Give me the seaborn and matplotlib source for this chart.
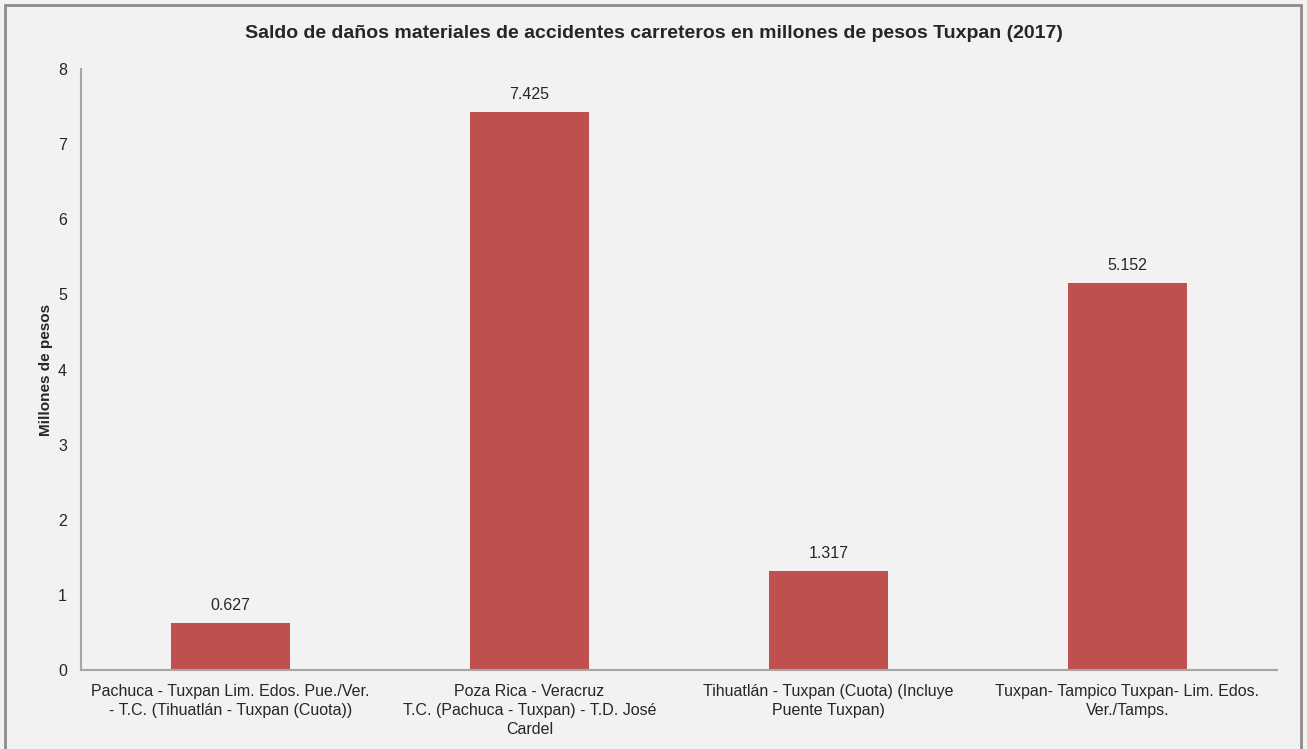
import matplotlib
matplotlib.use("Agg")
import matplotlib.pyplot as plt
import seaborn as sns
import pandas as pd
from matplotlib.patches import Rectangle

# Data
tramos = [
    "Pachuca - Tuxpan Lim. Edos. Pue./Ver.\n- T.C. (Tihuatlán - Tuxpan (Cuota))",
    "Poza Rica - Veracruz\nT.C. (Pachuca - Tuxpan) - T.D. José\nCardel",
    "Tihuatlán - Tuxpan (Cuota) (Incluye\nPuente Tuxpan)",
    "Tuxpan- Tampico Tuxpan- Lim. Edos.\nVer./Tamps.",
]
danos = [0.627, 7.425, 1.317, 5.152]
etiquetas = ["0.627", "7.425", "1.317", "5.152"]

df = pd.DataFrame({"tramo": tramos, "danos": danos})

sns.set_style("white")
plt.rcParams["font.family"] = ["Liberation Sans", "DejaVu Sans"]

bg = "#F2F2F2"
fig = plt.figure(figsize=(13.07, 7.49), dpi=100, facecolor=bg)
ax = fig.add_axes([81 / 1307, 1 - 670 / 749, 1196 / 1307, 601 / 749])
ax.set_facecolor(bg)

sns.barplot(data=df, x="tramo", y="danos", color="#C0504D", width=0.4,
            saturation=1, linewidth=0, edgecolor="none", ax=ax)

for i, (v, t) in enumerate(zip(danos, etiquetas)):
    ax.text(i, v + 0.13, t, ha="center", va="bottom", fontsize=11.5, color="#262626")

ax.set_xlim(-0.5, 3.5)
ax.set_ylim(0, 8)
ax.set_yticks(range(0, 9))
ax.tick_params(axis="both", length=0, labelsize=11.5, colors="#262626")
ax.tick_params(axis="y", pad=10)
ax.tick_params(axis="x", pad=10)
for lbl in ax.get_xticklabels():
    lbl.set_linespacing(1.35)
ax.set_xlabel("")
ax.set_ylabel("Millones de pesos", fontsize=11, fontweight="bold", labelpad=4)
ax.set_title("Saldo de daños materiales de accidentes carreteros en millones de pesos Tuxpan (2017)",
             fontsize=14, fontweight="bold", pad=22, x=(653.5 - 81) / 1196)

sns.despine(ax=ax, top=True, right=True)
for s in ["left", "bottom"]:
    ax.spines[s].set_color("#A6A6A6")
    ax.spines[s].set_linewidth(1.5)

# grey frame around the chart area
fig.patches.append(Rectangle((5 / 1307, -0.05), 1296 / 1307, 1.05 - 5 / 749,
                             transform=fig.transFigure, fill=False,
                             edgecolor="#8C8C8C", linewidth=2))

fig.savefig("out.png", dpi=100, facecolor=bg)
